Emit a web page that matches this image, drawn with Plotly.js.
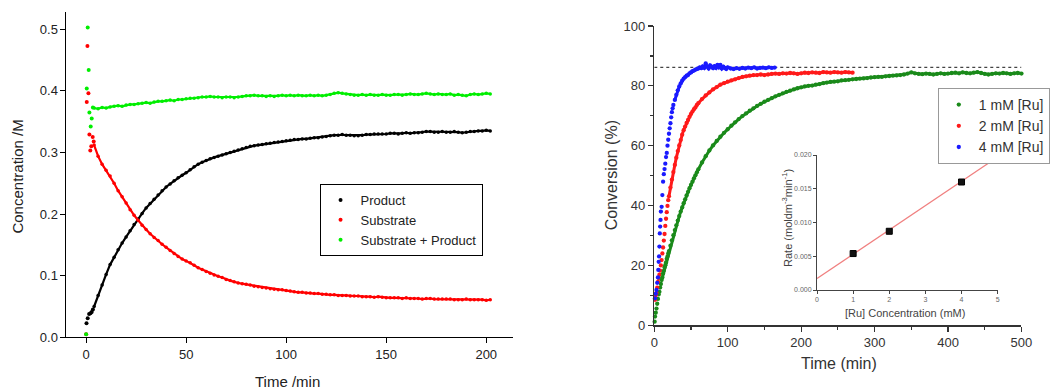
<!DOCTYPE html>
<html>
<head>
<meta charset="utf-8">
<script src="https://cdn.plot.ly/plotly-3.0.1.min.js"></script>
<style>html,body{margin:0;padding:0;background:#fff;overflow:hidden;}#chart{width:1050px;height:390px;}</style>
</head>
<body>
<div id="chart"></div>
<script>
// ---------- Left panel: concentration vs time ----------
// first readings (scattered start of the run)
const productEarlyTime = [0.2,0.8,1.5,2.2,2.8,3.4];
const productEarlyConc = [0.023,0.031,0.038,0.039,0.041,0.045];
const substrateEarlyTime = [0,0.33,0.66,1.16,1.65,2.1,2.6,3.3,3.8];
const substrateEarlyConc = [0.005,0.382,0.473,0.396,0.329,0.303,0.310,0.325,0.318];
const sumEarlyTime = [0,0.33,0.8,1.3,1.65,2.3,2.8,3.4];
const sumEarlyConc = [0.005,0.404,0.503,0.434,0.365,0.342,0.355,0.373];

// main run (shared time grid)
const mainTime = [4,6,8,10,12,14,16,18,20,22,24,26,28,30,32,34,36,38,40,42,44,46,48,50,52,54,56,58,60,62,64,66,68,70,72,74,76,78,80,82,84,86,88,90,92,94,96,98,100,102,104,106,108,110,112,114,116,118,120,122,124,126,128,130,132,134,136,138,140,142,144,146,148,150,152,154,156,158,160,162,164,166,168,170,172,174,176,178,180,182,184,186,188,190,192,194,196,198,200,202];
const productConc = [0.050,0.068,0.085,0.102,0.118,0.130,0.142,0.153,0.163,0.173,0.183,0.192,0.201,0.210,0.217,0.224,0.231,0.238,0.244,0.249,0.254,0.259,0.263,0.267,0.272,0.277,0.281,0.284,0.287,0.290,0.292,0.294,0.296,0.298,0.300,0.302,0.304,0.306,0.308,0.310,0.311,0.312,0.313,0.314,0.315,0.316,0.317,0.318,0.319,0.320,0.321,0.321,0.322,0.322,0.323,0.324,0.324,0.325,0.326,0.327,0.328,0.328,0.329,0.328,0.328,0.327,0.327,0.328,0.329,0.329,0.330,0.330,0.330,0.330,0.331,0.331,0.330,0.331,0.332,0.331,0.332,0.332,0.333,0.334,0.334,0.333,0.333,0.334,0.333,0.333,0.334,0.333,0.332,0.333,0.334,0.334,0.335,0.335,0.336,0.335];
const substrateConc = [0.312,0.294,0.281,0.271,0.262,0.250,0.238,0.228,0.218,0.207,0.198,0.190,0.182,0.175,0.168,0.162,0.157,0.151,0.146,0.141,0.136,0.131,0.127,0.124,0.121,0.117,0.113,0.110,0.107,0.104,0.101,0.099,0.097,0.094,0.092,0.090,0.088,0.087,0.086,0.085,0.083,0.082,0.081,0.080,0.079,0.078,0.077,0.077,0.076,0.075,0.074,0.073,0.073,0.072,0.072,0.071,0.071,0.070,0.070,0.069,0.069,0.068,0.068,0.068,0.067,0.067,0.067,0.066,0.066,0.066,0.065,0.066,0.065,0.064,0.064,0.064,0.064,0.063,0.064,0.063,0.063,0.063,0.062,0.063,0.063,0.062,0.062,0.062,0.062,0.062,0.061,0.061,0.061,0.062,0.061,0.061,0.061,0.061,0.060,0.061];
const sumConc = [0.372,0.371,0.373,0.372,0.374,0.375,0.376,0.375,0.377,0.378,0.378,0.379,0.380,0.381,0.380,0.382,0.383,0.383,0.384,0.385,0.384,0.386,0.386,0.387,0.388,0.388,0.389,0.390,0.390,0.391,0.390,0.390,0.389,0.390,0.390,0.389,0.390,0.391,0.392,0.392,0.393,0.392,0.392,0.391,0.392,0.391,0.392,0.393,0.392,0.393,0.392,0.393,0.392,0.392,0.393,0.392,0.393,0.392,0.393,0.394,0.396,0.397,0.396,0.395,0.394,0.393,0.393,0.394,0.393,0.394,0.393,0.393,0.394,0.393,0.393,0.394,0.394,0.393,0.394,0.395,0.394,0.394,0.395,0.396,0.395,0.394,0.395,0.394,0.394,0.395,0.393,0.394,0.393,0.392,0.394,0.395,0.394,0.395,0.396,0.395];

const leftXTicks = [0,50,100,150,200];
const leftYTicks = [0,0.1,0.2,0.3,0.4,0.5];

// ---------- Right panel: conversion vs time ----------
const ru1EarlyTime = [0.5,1,2,3,4,5,6,7,8,9];
const ru1EarlyConv = [1.2,2.9,4.2,5.6,7.2,8.8,10.3,11.2,12.6,13.8];
const ru1Time = [10,11,12,13,14,15,16,17,18,19,20,22,24,26,28,30,32,34,36,38,40,42,44,46,48,50,52,54,56,58,60,65,70,75,80,85,90,95,100,105,110,115,120,125,130,135,140,145,150,155,160,165,170,175,180,185,190,195,200,205,210,215,220,225,230,235,240,245,250,255,260,265,270,275,280,285,290,295,300,305,310,315,320,325,330,335,340,345,350,355,360,365,370,375,380,385,390,395,400,405,410,415,420,425,430,435,440,445,450,455,460,465,470,475,480,485,490,495,500];
const ru1Conv = [15.1,16.0,17.3,18.2,19.3,20.1,21.0,22.2,23.0,24.0,24.8,26.6,28.4,30.1,31.8,33.4,35.0,36.5,38.0,39.4,40.8,42.1,43.4,44.6,45.8,46.9,48.0,49.1,50.1,51.1,52.1,54.4,56.5,58.4,60.1,61.6,63.0,64.3,65.5,66.7,67.8,68.9,69.9,70.8,71.7,72.5,73.3,74.0,74.7,75.3,75.9,76.5,77.0,77.5,78.0,78.4,78.8,79.2,79.5,79.8,80.0,80.1,80.4,80.6,80.9,81.1,81.3,81.4,81.5,81.8,81.9,82.0,82.2,82.3,82.4,82.5,82.6,82.8,82.9,83.0,83.0,83.2,83.3,83.4,83.5,83.6,83.8,84.1,84.5,84.2,84.0,83.9,84.1,84.0,83.8,84.0,84.2,84.0,84.1,84.3,84.4,84.2,84.5,84.3,84.2,84.4,84.6,84.3,84.0,83.8,84.0,84.2,84.1,84.3,84.2,84.0,84.2,84.3,84.1];

const ru2EarlyTime = [1,2,3,4,5,6,7,8,9,10,11,12,13,14,15,16,17,18,19];
const ru2EarlyConv = [8.5,10.0,10.8,12.6,14.5,15.8,16.9,18.3,20.0,21.8,24.0,26.0,28.3,30.5,33.2,35.6,37.8,39.9,41.8];
const ru2Time = [20,22,24,26,28,30,32,34,36,38,40,42,44,46,48,50,52,54,56,58,60,65,70,75,80,85,90,95,100,105,110,115,120,125,130,135,140,145,150,155,160,165,170,175,180,185,190,195,200,205,210,215,220,225,230,235,240,245,250,255,260,265,270];
const ru2Conv = [43.1,46.0,48.7,51.2,53.6,56.0,58.2,60.1,61.9,63.7,65.2,66.4,67.6,68.6,69.7,70.6,71.4,72.2,72.8,73.6,74.2,75.6,76.8,77.8,78.8,79.6,80.4,80.9,81.4,81.8,82.2,82.6,83.0,83.2,83.4,83.6,83.6,83.8,83.6,83.8,84.0,84.1,84.0,84.2,84.1,84.3,84.2,84.0,84.2,84.4,84.3,84.5,84.4,84.3,84.6,84.5,84.4,84.6,84.5,84.4,84.6,84.5,84.4];

const ru4EarlyTime = [1,2,3,4,5,5.5,6,6.5,7,7.5,8,8.5,9,10,11,12,13,14,15,16,17,18,19,20,21,22,23,24,25,26];
const ru4EarlyConv = [9.0,10.5,11.8,14.2,16.0,18.5,21.2,23.0,26.3,30.7,33.0,35.2,38.0,39.6,43.5,48.0,50.5,52.2,54.0,56.2,57.6,60.0,62.0,64.0,65.8,67.5,69.5,71.2,72.5,73.6];
const ru4Time = [28,30,32,34,36,38,40,42,44,46,48,50,52,54,56,58,60,62,64,66,68,70,72,74,76,78,80,82,84,86,88,90,92,94,96,98,100,104,108,112,116,120,124,128,132,136,140,144,148,152,156,160,164];
const ru4Conv = [75.3,77.0,78.5,79.8,80.8,81.7,82.4,82.9,83.4,83.6,84.2,84.5,84.9,85.1,85.4,85.6,85.8,86.2,85.9,86.5,86.0,87.5,86.4,85.8,86.8,86.4,85.9,86.6,86.0,87.0,86.2,87.0,85.8,86.4,86.0,85.6,86.2,85.8,85.6,85.9,85.7,86.0,85.8,86.1,85.9,86.2,85.8,86.0,86.1,85.9,86.2,86.0,86.1];

const plateauTime = [0, 500];
const plateauConv = [86.2, 86.2];

// ---------- Inset: rate vs [Ru] ----------
const ruConc = [1, 2, 4];
const rate = [0.0054, 0.0087, 0.0160];
const fitConc = [0, 5];
const fitRate = [0.0017, 0.0197];

const FONT = 'Liberation Sans, Arial, sans-serif';

function dots(x, y, name, color, size, ax, lg) {
  return {x: x, y: y, type: 'scatter', mode: 'markers', name: name,
    marker: {color: color, size: size, line: {width: 0}},
    xaxis: ax[0], yaxis: ax[1], legend: lg, cliponaxis: false};
}
function band(x, y, color, size, width, ax) {
  return {x: x, y: y, type: 'scatter', mode: 'lines+markers', showlegend: false,
    marker: {color: color, size: size, line: {width: 0}},
    line: {color: color, width: width},
    xaxis: ax[0], yaxis: ax[1], cliponaxis: false};
}

const L = ['x', 'y'], R = ['x2', 'y2'];
const cBlack = '#000000', cRed = '#ff0000', cLime = '#00ee00';
const cG = '#1a8a1a', cR = '#ff1a1a', cB = '#1a1aff';

const traces = [
  dots(productEarlyTime, productEarlyConc, 'Product', cBlack, 4, L, 'legend'),
  dots(substrateEarlyTime, substrateEarlyConc, 'Substrate', cRed, 4, L, 'legend'),
  dots(sumEarlyTime, sumEarlyConc, 'Substrate + Product', cLime, 4, L, 'legend'),
  band(mainTime, productConc, cBlack, 3.5, 2.2, L),
  band(mainTime, substrateConc, cRed, 3.5, 2.2, L),
  band(mainTime, sumConc, cLime, 3.5, 2.2, L),

  {x: plateauTime, y: plateauConv, type: 'scatter', mode: 'lines', showlegend: false,
   line: {color: '#444', width: 1.2, dash: 'dot'}, xaxis: 'x2', yaxis: 'y2'},
  dots(ru1EarlyTime, ru1EarlyConv, '1 mM [Ru]', cG, 4.3, R, 'legend2'),
  dots(ru2EarlyTime, ru2EarlyConv, '2 mM [Ru]', cR, 4.3, R, 'legend2'),
  dots(ru4EarlyTime, ru4EarlyConv, '4 mM [Ru]', cB, 4.3, R, 'legend2'),
  band(ru1Time, ru1Conv, cG, 4.3, 3, R),
  band(ru2Time, ru2Conv, cR, 4.3, 3, R),
  band(ru4Time, ru4Conv, cB, 4.3, 3, R),

  {x: fitConc, y: fitRate, type: 'scatter', mode: 'lines', showlegend: false,
   line: {color: '#f08080', width: 1.3}, xaxis: 'x3', yaxis: 'y3'},
  {x: ruConc, y: rate, type: 'scatter', mode: 'markers', showlegend: false,
   marker: {symbol: 'square', size: 6, color: '#111', line: {color: '#000', width: 1}},
   xaxis: 'x3', yaxis: 'y3', cliponaxis: false}
];

const axBase = {showgrid: false, zeroline: false, showline: true, ticks: 'outside', fixedrange: true};

const layout = {
  width: 1050, height: 390,
  margin: {l: 0, r: 0, t: 0, b: 0},
  paper_bgcolor: '#ffffff', plot_bgcolor: 'rgba(0,0,0,0)',
  font: {family: FONT, color: '#222'},
  hovermode: false,
  xaxis: Object.assign({}, axBase, {
    domain: [67/1050, 517/1050], range: [-9.8, 213.4], anchor: 'y',
    tickvals: leftXTicks, linecolor: '#000', linewidth: 1, tickcolor: '#000', ticklen: 5,
    tickfont: {size: 13, color: '#222'}
  }),
  yaxis: Object.assign({}, axBase, {
    domain: [(390-337.3)/390, (390-12)/390], range: [0, 0.528], anchor: 'x',
    tickvals: leftYTicks, tickformat: '.1f', linecolor: '#000', linewidth: 1, tickcolor: '#000', ticklen: 5,
    tickfont: {size: 13, color: '#222'}
  }),
  xaxis2: Object.assign({}, axBase, {
    domain: [659.3/1050, 1029.3/1050], range: [0, 500], anchor: 'y2',
    dtick: 100, tick0: 0, linecolor: '#333', linewidth: 1.5, tickcolor: '#333', ticklen: 5, tickwidth: 1.2,
    minor: {dtick: 50, tick0: 0, ticks: 'outside', ticklen: 3, tickcolor: '#333'},
    tickfont: {size: 13, color: '#333'}
  }),
  yaxis2: Object.assign({}, axBase, {
    domain: [(390-325.3)/390, (390-26)/390], range: [0, 100], anchor: 'x2',
    dtick: 20, tick0: 0, linecolor: '#333', linewidth: 1.5, tickcolor: '#333', ticklen: 5, tickwidth: 1.2,
    minor: {dtick: 10, tick0: 0, ticks: 'outside', ticklen: 3, tickcolor: '#333'},
    tickfont: {size: 13, color: '#333'}
  }),
  xaxis3: Object.assign({}, axBase, {
    domain: [823.3/1050, 1005.3/1050], range: [0, 5], anchor: 'y3',
    dtick: 1, tick0: 0, linecolor: '#444', linewidth: 1, tickcolor: '#444', ticklen: 3,
    tickfont: {size: 7, color: '#666'}
  }),
  yaxis3: Object.assign({}, axBase, {
    domain: [(390-290)/390, (390-155)/390], range: [0, 0.020], anchor: 'x3',
    dtick: 0.005, tick0: 0, tickformat: '.3f', linecolor: '#444', linewidth: 1, tickcolor: '#444', ticklen: 3,
    tickfont: {size: 7, color: '#666'}
  }),
  legend: {
    x: 322/1050, y: (390-184)/390, xanchor: 'left', yanchor: 'top',
    bordercolor: '#000', borderwidth: 1, bgcolor: '#fff',
    font: {size: 13, color: '#222', family: FONT}, tracegroupgap: 0
  },
  legend2: {
    x: 945/1050, y: (390-88)/390, xanchor: 'left', yanchor: 'top',
    bordercolor: '#999', borderwidth: 1, bgcolor: '#fff',
    font: {size: 14, color: '#333', family: FONT}, tracegroupgap: 0
  },
  annotations: [
    {text: 'Concentration /M', x: 18/1050, y: (390-176.7)/390, xref: 'paper', yref: 'paper',
     textangle: -90, showarrow: false, xanchor: 'center', yanchor: 'middle', font: {size: 15, color: '#222'}},
    {text: 'Time /min', x: 290/1050, y: (390-381)/390, xref: 'paper', yref: 'paper',
     showarrow: false, xanchor: 'center', yanchor: 'middle', font: {size: 15, color: '#222'}},
    {text: 'Conversion (%)', x: 617/1050, y: (390-175)/390, xref: 'paper', yref: 'paper',
     textangle: -90, showarrow: false, xanchor: 'center', yanchor: 'middle', font: {size: 16, color: '#333'}},
    {text: 'Time (min)', x: 845/1050, y: (390-363)/390, xref: 'paper', yref: 'paper',
     showarrow: false, xanchor: 'center', yanchor: 'middle', font: {size: 16, color: '#333'}},
    {text: '[Ru] Concentration (mM)', x: 912/1050, y: (390-313)/390, xref: 'paper', yref: 'paper',
     showarrow: false, xanchor: 'center', yanchor: 'middle', font: {size: 11, color: '#444'}},
    {text: 'Rate (moldm<sup>-3</sup>min<sup>-1</sup>)', x: 793/1050, y: (390-218)/390, xref: 'paper', yref: 'paper',
     textangle: -90, showarrow: false, xanchor: 'center', yanchor: 'middle', font: {size: 11, color: '#444'}}
  ]
};

Plotly.newPlot('chart', traces, layout, {staticPlot: true, displayModeBar: false});
</script>
</body>
</html>
